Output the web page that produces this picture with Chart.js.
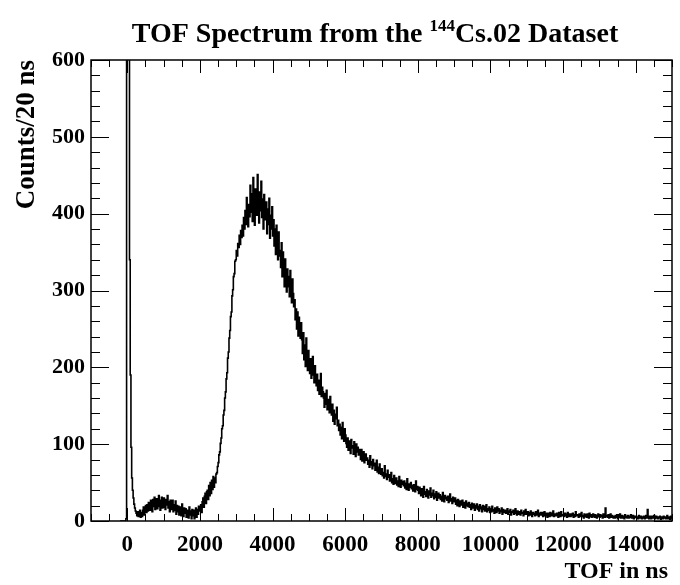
<!DOCTYPE html>
<html>
<head>
<meta charset="utf-8">
<script src="https://cdn.jsdelivr.net/npm/chart.js@4.4.1/dist/chart.umd.min.js"></script>
<style>
  html, body { margin: 0; padding: 0; background: #fff; }
  #wrap { width: 680px; height: 585px; }
</style>
</head>
<body>
<div id="wrap"><canvas id="tofChart" width="680" height="585"></canvas></div>
<script>
// TOF histogram, 20 ns bins, low edge of the first bin at -200 ns
const binWidth = 20;
const firstBin = -200;
const counts = [
  0,0,0,0,0,0,0,0,3,1500,
  2600,1300,650,340,190,96,56,40,30,22,
  17,13,10,7,12,6,10,14,5,11,
  6,14,18,8,15,20,11,21,13,24,
  23,14,27,17,12,28,19,31,15,24,
  29,16,25,33,19,14,27,31,17,25,
  30,18,15,28,21,33,17,25,12,27,
  23,15,27,12,21,14,26,9,20,12,
  19,8,18,14,7,22,11,6,17,10,
  16,5,14,9,4,18,8,13,3,15,
  7,14,3,12,17,5,15,9,19,13,
  13,21,11,25,30,18,32,36,23,38,
  40,28,46,33,50,36,53,41,58,44,
  56,50,61,63,71,76,86,90,101,108,
  120,124,138,144,160,168,185,193,212,220,
  238,248,266,272,293,301,318,322,338,340,
  352,345,361,356,372,360,378,369,385,371,
  395,380,404,386,421,398,383,412,396,437,
  402,426,390,447,408,385,432,415,398,451,
  410,388,428,404,442,395,419,380,425,401,
  392,415,374,406,386,420,368,398,380,409,
  371,392,358,380,347,385,362,340,376,352,
  345,330,362,318,350,336,305,341,322,298,
  328,305,318,292,326,300,284,315,296,279,
  288,262,276,250,272,241,265,247,238,258,
  236,218,245,210,229,201,238,215,196,222,
  205,192,211,186,198,214,190,180,202,186,
  176,191,170,183,165,178,192,162,174,168,
  160,148,166,152,170,145,158,150,141,162,
  146,138,152,130,144,126,139,133,148,124,
  131,118,126,112,122,107,128,115,104,120,
  112,101,96,108,92,104,99,88,106,95,
  98,87,103,92,84,100,90,96,86,93,
  88,80,93,78,85,90,76,83,87,79,
  82,74,79,70,85,73,77,68,80,72,
  75,66,71,79,64,70,62,74,67,61,
  68,59,63,56,72,58,61,54,66,57,
  60,52,57,63,50,55,48,59,53,49,
  56,47,52,45,58,50,44,53,48,51,
  46,52,43,49,41,55,45,40,48,44,
  50,42,46,39,47,43,38,52,41,45,
  40,36,44,38,33,42,37,31,45,35,
  38,32,41,35,30,39,34,43,31,36,
  33,40,29,35,31,38,27,34,36,30,
  34,28,32,26,37,30,25,33,29,31,
  27,32,24,30,35,26,29,23,31,28,
  25,30,22,27,20,28,24,19,26,23,
  21,27,18,24,22,17,26,20,23,19,
  24,18,21,15,23,19,17,22,14,20,
  17,22,15,19,13,21,16,18,12,20,
  15,19,13,17,21,12,16,14,18,11,
  16,12,19,13,15,10,17,14,11,18,
  13,16,10,14,12,17,9,15,13,11,
  14,10,12,16,9,13,11,15,8,12,
  11,14,9,12,16,10,8,13,11,9,
  12,8,14,10,11,7,13,9,15,10,
  9,12,7,11,8,13,10,6,11,9,
  10,7,12,8,9,14,6,10,8,11,
  8,11,6,9,12,7,10,8,5,10,
  9,6,11,8,7,10,13,6,9,7,
  7,10,8,5,11,9,6,12,8,7,
  8,6,10,7,9,5,11,7,6,9,
  6,9,7,10,5,8,6,12,7,8,
  7,5,9,6,8,11,6,7,4,9,
  8,6,5,9,7,4,10,6,8,5,
  6,9,7,5,8,6,4,7,9,6,
  5,8,6,7,4,9,6,5,17,6,
  7,5,8,4,6,9,5,7,6,4,
  6,4,7,5,8,3,6,5,9,4,
  5,7,4,6,3,8,5,6,4,7,
  4,6,5,8,4,5,7,3,6,5,
  6,4,5,3,7,5,4,6,3,5,
  4,6,3,5,7,4,15,5,3,6,
  5,3,6,4,5,7,3,4,6,4,
  3,5,4,6,2,5,4,3,6,5,
  4,3,5,7,3,4,5,2,6,4
];

const xMin = -1000;
const xMax = 15000;
const yMin = 0;
const yMax = 600;
const xTickLabels = [0, 2000, 4000, 6000, 8000, 10000, 12000, 14000];
const yTickLabels = [0, 100, 200, 300, 400, 500, 600];

const serif = "'Liberation Serif', 'Times New Roman', serif";

function whenDocumentLoaded(action) {
  if (document.readyState === "loading") {
    document.addEventListener("DOMContentLoaded", action);
  } else {
    action();
  }
}

// histogram points at the low edge of each bin, closed at the last edge
function buildPoints() {
  const points = [];
  for (let i = 0; i < counts.length; i++) {
    points.push({ x: firstBin + i * binWidth, y: counts[i] });
  }
  points.push({ x: firstBin + counts.length * binWidth, y: counts[counts.length - 1] });
  return points;
}

// ROOT-like frame: ticks inside on all four sides, plus the titles
const rootFrame = {
  id: 'rootFrame',
  afterDraw(chart) {
    const { ctx, chartArea: area } = chart;
    const x = chart.scales.x;
    const y = chart.scales.y;
    ctx.save();
    ctx.strokeStyle = '#000';
    ctx.lineWidth = 1;
    ctx.beginPath();
    for (let v = xMin; v <= xMax; v += 500) {
      const px = Math.round(x.getPixelForValue(v)) + 0.5;
      const len = v % 2000 === 0 ? 13 : 7;
      ctx.moveTo(px, area.bottom);
      ctx.lineTo(px, area.bottom - len);
      ctx.moveTo(px, area.top);
      ctx.lineTo(px, area.top + len);
    }
    for (let v = yMin; v <= yMax; v += 20) {
      const py = Math.round(y.getPixelForValue(v)) + 0.5;
      const len = v % 100 === 0 ? 18 : 9;
      ctx.moveTo(area.left, py);
      ctx.lineTo(area.left + len, py);
      ctx.moveTo(area.right, py);
      ctx.lineTo(area.right - len, py);
    }
    ctx.stroke();
    ctx.lineWidth = 1.5;
    ctx.strokeRect(area.left, area.top, area.right - area.left, area.bottom - area.top);

    ctx.fillStyle = '#000';
    ctx.textBaseline = 'alphabetic';

    // title with superscript mass number
    const big = 'bold 28px ' + serif;
    const small = 'bold 17px ' + serif;
    const parts = [
      ['TOF Spectrum from the ', big, 0],
      ['144', small, -11],
      ['Cs.02 Dataset', big, 0]
    ];
    let total = 0;
    parts.forEach(p => { ctx.font = p[1]; total += ctx.measureText(p[0]).width; });
    let tx = 375 - total / 2;
    ctx.textAlign = 'left';
    parts.forEach(p => {
      ctx.font = p[1];
      ctx.fillText(p[0], tx, 42 + p[2]);
      tx += ctx.measureText(p[0]).width;
    });

    // x axis title
    ctx.font = 'bold 24px ' + serif;
    ctx.textAlign = 'right';
    ctx.fillText('TOF in ns', 668, 578);

    // y axis title
    ctx.save();
    ctx.translate(34, 60);
    ctx.rotate(-Math.PI / 2);
    ctx.font = 'bold 27px ' + serif;
    ctx.textAlign = 'right';
    ctx.fillText('Counts/20 ns', 0, 0);
    ctx.restore();

    ctx.restore();
  }
};

function drawHistogram() {
  const canvas = document.getElementById('tofChart');
  new Chart(canvas, {
    type: 'line',
    data: {
      datasets: [{
        data: buildPoints(),
        borderColor: '#000',
        borderWidth: 1.6,
        pointRadius: 0,
        stepped: true,
        fill: false
      }]
    },
    options: {
      responsive: false,
      animation: false,
      devicePixelRatio: 1,
      parsing: false,
      layout: { padding: { top: 60, right: 8, left: 0, bottom: 0 } },
      plugins: {
        legend: { display: false },
        tooltip: { enabled: false }
      },
      scales: {
        x: {
          type: 'linear',
          min: xMin,
          max: xMax,
          grid: { display: false, drawTicks: false },
          border: { display: false },
          ticks: {
            color: '#000',
            font: { family: serif, weight: 'bold', size: 23 },
            padding: 10,
            maxRotation: 0,
            autoSkip: false,
            callback: v => String(v)
          },
          afterBuildTicks: s => { s.ticks = xTickLabels.map(v => ({ value: v })); },
          afterFit: s => { s.height = 64; }
        },
        y: {
          type: 'linear',
          min: yMin,
          max: yMax,
          grid: { display: false, drawTicks: false },
          border: { display: false },
          ticks: {
            color: '#000',
            font: { family: serif, weight: 'bold', size: 22 },
            padding: 6,
            autoSkip: false,
            callback: v => String(v)
          },
          afterBuildTicks: s => { s.ticks = yTickLabels.map(v => ({ value: v })); },
          afterFit: s => { s.width = 91; }
        }
      }
    },
    plugins: [rootFrame]
  });
}

whenDocumentLoaded(() => {
  drawHistogram();
});
</script>
</body>
</html>
